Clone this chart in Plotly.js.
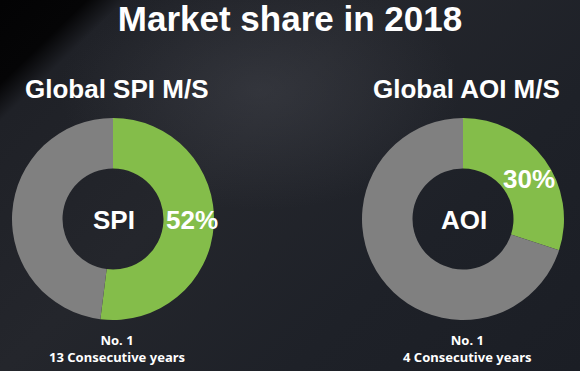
<!DOCTYPE html>
<html>
<head>
<meta charset="utf-8">
<script src="https://cdn.plot.ly/plotly-3.0.1.min.js"></script>
<style>
  html, body { margin: 0; padding: 0; }
  body {
    width: 580px; height: 371px; overflow: hidden;
    background:
      radial-gradient(ellipse 200px 120px at 260px 90px, rgba(70,72,80,0.45), rgba(70,72,80,0) 100%),
      linear-gradient(136deg, #030304 0%, #050506 9%, #1f2127 13%, #24262c 40%, #1e2128 70%, #1b1e25 100%);
  }
  #chart { width: 580px; height: 371px; }
</style>
</head>
<body>
<div id="chart"></div>
<script>
// ---- data ----
const chartTitle = "Market share in 2018";
const products = ["SPI", "AOI"];
const panelTitles = ["Global SPI M/S", "Global AOI M/S"];
const shares = [52, 30];               // company market share, %
const rankText = ["No. 1", "No. 1"];
const consecutiveYears = [13, 4];
const sliceLabels = ["Share", "Others"];

// ---- style ----
const GREEN = "#84bd4a";
const GRAY = "#808080";
const W = 580, H = 371;
const centersX = [113, 463];
const centerY = 219;
const R = 101;

function px2x(p) { return p / W; }
function px2y(p) { return 1 - p / H; }

const traces = products.map((p, i) => ({
  type: "pie",
  labels: sliceLabels,
  values: [shares[i], 100 - shares[i]],
  sort: false,
  direction: "clockwise",
  rotation: 0,
  hole: 0.5,
  textinfo: "none",
  hoverinfo: "label+percent",
  marker: { colors: [GREEN, GRAY], line: { width: 0 } },
  domain: {
    x: [px2x(centersX[i] - R), px2x(centersX[i] + R)],
    y: [px2y(centerY + R), px2y(centerY - R)]
  },
  showlegend: false
}));

const white = "#ffffff";
const arial = "Liberation Sans, Arial, sans-serif";
const annotations = [];

// share label positions (px)
const shareLabelPos = [[192, 220], [529, 179]];

products.forEach((p, i) => {
  annotations.push({
    text: panelTitles[i], x: px2x(centersX[i] + 3), y: px2y(89),
    xref: "paper", yref: "paper", showarrow: false, xanchor: "center", yanchor: "middle",
    font: { family: arial, size: 26, color: white, weight: "bold" }
  });
  annotations.push({
    text: p, x: px2x(centersX[i] + 1), y: px2y(220),
    xref: "paper", yref: "paper", showarrow: false, xanchor: "center", yanchor: "middle",
    font: { family: arial, size: 26, color: white, weight: "bold" }
  });
  annotations.push({
    text: shares[i] + "%", x: px2x(shareLabelPos[i][0]), y: px2y(shareLabelPos[i][1]),
    xref: "paper", yref: "paper", showarrow: false, xanchor: "center", yanchor: "middle",
    font: { family: arial, size: 26, color: white, weight: "bold" }
  });
  annotations.push({
    text: rankText[i] + "<br>" + consecutiveYears[i] + " Consecutive years",
    x: px2x(centersX[i] + 4), y: px2y(348),
    xref: "paper", yref: "paper", showarrow: false, xanchor: "center", yanchor: "middle",
    align: "center",
    font: { family: "Noto Sans, sans-serif", size: 13, color: white, weight: "bold" }
  });
});

const layout = {
  width: W, height: H,
  margin: { l: 0, r: 0, t: 0, b: 0 },
  paper_bgcolor: "rgba(0,0,0,0)",
  plot_bgcolor: "rgba(0,0,0,0)",
  title: {
    text: chartTitle,
    x: 0.5, xanchor: "center", xref: "paper",
    y: 1 - 19 / H, yanchor: "middle", yref: "container",
    font: { family: arial, size: 35, color: white, weight: "bold" }
  },
  annotations: annotations
};

Plotly.newPlot("chart", traces, layout, { displayModeBar: false, staticPlot: false });
</script>
</body>
</html>
